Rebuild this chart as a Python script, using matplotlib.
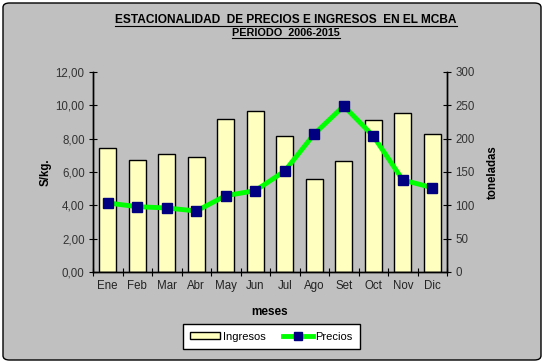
import matplotlib
matplotlib.use("Agg")
import matplotlib.pyplot as plt
from matplotlib.patches import FancyBboxPatch
from matplotlib.ticker import FuncFormatter, MultipleLocator

meses = ["Ene", "Feb", "Mar", "Abr", "May", "Jun", "Jul", "Ago", "Set", "Oct", "Nov", "Dic"]
ingresos = [186, 168, 177, 172, 229, 241, 204, 139, 167, 228, 238, 207]
precios = [4.14, 3.92, 3.84, 3.66, 4.58, 4.88, 6.06, 8.28, 9.96, 8.16, 5.52, 5.06]

plt.rcParams['font.family'] = ['Liberation Sans', 'DejaVu Sans']
W, H = 544, 363
fig = plt.figure(figsize=(W / 100, H / 100), dpi=100)
fig.patch.set_facecolor("white")
bg = "#C0C0C0"
frame = FancyBboxPatch((3 / W, 3 / H), (W - 6) / W, (H - 6) / H,
                       boxstyle="round,pad=0,rounding_size=0.012",
                       transform=fig.transFigure, facecolor=bg,
                       edgecolor="black", linewidth=1.0, zorder=-5)
fig.patches.append(frame)

left, right, top, bottom = 93, 447, 72, 272
ax = fig.add_axes([left / W, 1 - bottom / H, (right - left) / W, (bottom - top) / H])
ax.set_facecolor(bg)
ax2 = ax.twinx()

x = list(range(len(meses)))
ax2.bar(x, ingresos, width=0.58, color="#FFFFC0", edgecolor="black", linewidth=1.0, zorder=2)
ax2.set_ylim(0, 300)
ax2.yaxis.set_major_locator(MultipleLocator(50))

ax.set_zorder(ax2.get_zorder() + 1)
ax.patch.set_visible(False)
ax2.patch.set_facecolor(bg)
ax2.patch.set_visible(True)
ax.plot(x, precios, color="#00FF00", linewidth=3.5, marker="s", markersize=6.5,
        markerfacecolor="#000080", markeredgecolor="#000080", zorder=3)
ax.set_ylim(0, 12)
ax.set_xlim(-0.5, 11.5)
ax.yaxis.set_major_locator(MultipleLocator(2))
ax.yaxis.set_major_formatter(FuncFormatter(lambda v, p: f"{v:.2f}".replace(".", ",")))

ax.set_xticks(x)
ax.set_xticklabels(meses)
ax.set_xticks([i + 0.5 for i in range(-1, 12)], minor=True)
ax.tick_params(axis="x", which="major", length=0, pad=6, labelsize=8.3, labelcolor="#222222")
ax.tick_params(axis="x", which="minor", length=6, direction="inout", width=0.8)
ax.tick_params(axis="y", length=6, direction="inout", width=0.8, labelsize=8.3, labelcolor="#333333", pad=3)
ax2.tick_params(axis="y", length=6, direction="inout", width=0.8, labelsize=8.3, labelcolor="#333333", pad=3)

for a in (ax, ax2):
    a.spines["top"].set_visible(False)
    for s in ("left", "right", "bottom"):
        a.spines[s].set_linewidth(1.0)
        a.spines[s].set_color("black")

ax.set_ylabel("S/kg.", fontsize=8.3, fontweight="bold", labelpad=3)
ax2.set_ylabel("toneladas", fontsize=8.3, fontweight="bold", labelpad=9)
ax.set_xlabel("meses", fontsize=8.5, fontweight="bold", labelpad=10)

tx = 286 / W
t1 = fig.text(tx, 1 - 20 / H, "ESTACIONALIDAD  DE PRECIOS E INGRESOS  EN EL MCBA",
              ha="center", va="center", fontsize=8.6, fontweight="bold")
t2 = fig.text(tx, 1 - 33 / H, "PERIODO  2006-2015",
              ha="center", va="center", fontsize=7.8, fontweight="bold")
# underlines
fig.canvas.draw()
r = fig.canvas.get_renderer()
for t in (t1, t2):
    bb = t.get_window_extent(r)
    y = (bb.y0 + 0.5) / H
    fig.add_artist(plt.Line2D([bb.x0 / W, bb.x1 / W], [y, y], color="black",
                              linewidth=0.8, transform=fig.transFigure))

h1 = plt.Rectangle((0, 0), 1, 1, facecolor="#FFFFC0", edgecolor="black", linewidth=1.0)
h2 = plt.Line2D([], [], color="#00FF00", linewidth=3.5, marker="s", markersize=6,
                markerfacecolor="#000080", markeredgecolor="#000080")
leg = fig.legend([h1, h2], ["Ingresos", "Precios"], loc="center",
                 bbox_to_anchor=(271.5 / W, 1 - 336.5 / H), ncol=2, frameon=True,
                 fontsize=8, fancybox=False, edgecolor="black", facecolor="white",
                 framealpha=1, handlelength=2.7, handleheight=0.6, columnspacing=1.6,
                 borderpad=0.7, handletextpad=0.2, borderaxespad=0)
leg.get_frame().set_linewidth(1.0)

fig.savefig("out.png", dpi=100, facecolor=fig.get_facecolor())
